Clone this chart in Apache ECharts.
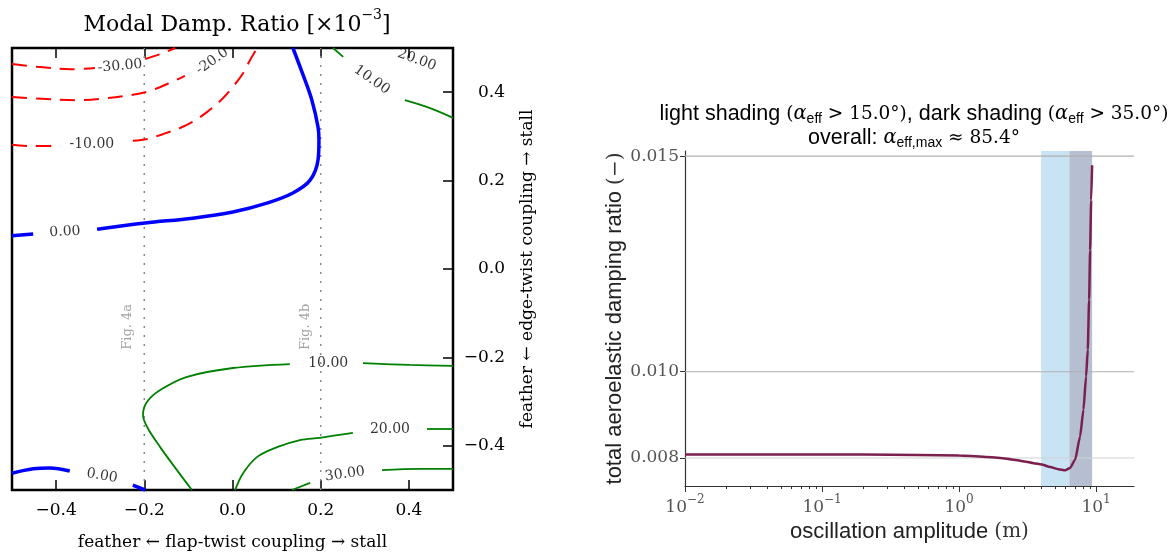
<!DOCTYPE html>
<html><head><meta charset="utf-8">
<script src="https://cdn.jsdelivr.net/npm/echarts@6/dist/echarts.min.js"></script>
<style>html,body{margin:0;padding:0;background:#fff}#c{width:1176px;height:557px}</style>
</head><body><div id="c"></div><script>
const SERIF = 'DejaVu Serif';
const SANS = 'Liberation Sans';

// ---------- left panel: contour lines (data units) ----------
const couplingTicks = [-0.4, -0.2, 0, 0.2, 0.4];
const figRefX = [-0.2, 0.2];
const figRefText = ['Fig. 4a', 'Fig. 4b'];
const figTextX = [-0.237, 0.1655];
const figTextY = [-0.131, -0.131];

const contourM30 = [
  [[-0.5,0.464],[-0.437,0.457],[-0.368,0.452],[-0.312,0.455]],
  [[-0.198,0.475],[-0.164,0.486],[-0.130,0.5]]
];
const contourM20 = [
  [[-0.5,0.389],[-0.432,0.385],[-0.357,0.382],[-0.300,0.385],[-0.226,0.394],[-0.187,0.403],[-0.142,0.421],[-0.108,0.437]]
];
const contourM10 = [
  [[-0.5,0.281],[-0.452,0.278],[-0.402,0.278]],
  [[-0.226,0.290],[-0.194,0.294],[-0.158,0.305],[-0.119,0.319],[-0.090,0.333],[-0.058,0.355],[-0.028,0.380],[-0.001,0.410],[0.024,0.443],[0.040,0.473],[0.056,0.5]]
];
const contourZero = [
  [[-0.5,0.075],[-0.452,0.079]],
  [[-0.307,0.090],[-0.198,0.104],[-0.090,0.115],[0.001,0.129],[0.078,0.149],[0.137,0.172],[0.176,0.201],[0.194,0.247],[0.196,0.292],[0.194,0.321],[0.180,0.382],[0.160,0.439],[0.137,0.5]],
  [[-0.5,-0.462],[-0.452,-0.452],[-0.414,-0.450],[-0.369,-0.457]],
  [[-0.226,-0.489],[-0.198,-0.5]]
];
const contourP10 = [
  [[0.228,0.5],[0.251,0.480]],
  [[0.391,0.382],[0.448,0.364],[0.5,0.342]],
  [[-0.092,-0.5],[-0.126,-0.455],[-0.164,-0.403],[-0.194,-0.357],[-0.203,-0.330],[-0.194,-0.301],[-0.164,-0.274],[-0.103,-0.244],[0.001,-0.224],[0.130,-0.215]],
  [[0.296,-0.213],[0.402,-0.217],[0.5,-0.219]]
];
const contourP20 = [
  [[0.006,-0.5],[0.024,-0.462],[0.056,-0.425],[0.101,-0.403],[0.153,-0.387],[0.198,-0.382],[0.273,-0.371]],
  [[0.441,-0.362],[0.5,-0.362]]
];
const contourP30 = [
  [[0.135,-0.5],[0.176,-0.484]],
  [[0.339,-0.455],[0.425,-0.452],[0.5,-0.452]]
];

const contourLabelText = ['-30.00','-20.0','-10.00','0.00','0.00','10.00','20.00','10.00','20.00','30.00'];
const contourLabelX    = [-0.255, -0.046, -0.319, -0.380, -0.296, 0.316, 0.418, 0.217, 0.357, 0.255];
const contourLabelY    = [ 0.459,  0.470,  0.281,  0.084, -0.468, 0.428, 0.473, -0.213, -0.362, -0.464];
const contourLabelRot  = [ 5, 35, 0, 3, -10, -35, -20, 0, 0, 8];

// ---------- right panel ----------
const ampX  = [0.01, 0.02, 0.05, 0.1, 0.2, 0.5, 1.0, 1.5, 2.0, 2.5, 3.0, 3.5, 4.0, 4.62, 5.3, 5.94, 6.46, 7.03, 7.64, 8.08, 8.45, 8.69, 8.89, 9.04, 9.2, 9.35];
const dampY = [0.00808, 0.00808, 0.00808, 0.00808, 0.00808, 0.00807, 0.00806, 0.00803, 0.00800, 0.00796, 0.00792, 0.00788, 0.00785, 0.00779, 0.00774, 0.007715, 0.00777, 0.00796, 0.00850, 0.00912, 0.00989, 0.01051, 0.01167, 0.01282, 0.01398, 0.01479];
const dampTicks = [0.008, 0.010, 0.015];
const dampGridColors = ['#d2d2d2', '#b0b0b0', '#b0b0b0'];
const ampTicks = [0.01, 0.1, 1, 10];
const lightBand = [3.97, 6.38];
const darkBand = [6.38, 9.35];
const ampMin = 0.01, ampMax = 18.9;

const ampMinorTicks = [];
for (let k = -2; k <= 1; k++) for (let m = 2; m <= 9; m++) { const v = m * Math.pow(10, k); if (v <= ampMax) ampMinorTicks.push(v); }

function fmtCoupling(v) { const a = Math.abs(v).toFixed(1); return (v < -1e-9 ? '−' : '') + a; }
function fmtPow(v) { const e = Math.round(Math.log10(v)); return '{b|10}{e|' + (e < 0 ? '−' : '') + Math.abs(e) + '}'; }

function contourSeries(segs, color, width, dash) {
  return segs.map(seg => ({
    type: 'line', xAxisIndex: 0, yAxisIndex: 0, data: seg, showSymbol: false, symbol: 'none',
    smooth: 0.35, lineStyle: { color: color, width: width, type: dash || 'solid' }, z: 3, silent: true
  }));
}

const series = [];
figRefX.forEach(x => series.push({
  type: 'line', xAxisIndex: 0, yAxisIndex: 0, data: [[x, -0.5], [x, 0.5]], showSymbol: false, symbol: 'none',
  lineStyle: { color: '#888', width: 1.5, type: [2, 7] }, z: 2, silent: true
}));
const redDash = [15, 9];
series.push(...contourSeries(contourM30, '#ff0000', 2, redDash));
series.push(...contourSeries(contourM20, '#ff0000', 2, redDash));
series.push(...contourSeries(contourM10, '#ff0000', 2, redDash));
series.push(...contourSeries(contourZero, '#0000ff', 3.5));
series.push(...contourSeries(contourP10, '#008000', 1.8));
series.push(...contourSeries(contourP20, '#008000', 1.8));
series.push(...contourSeries(contourP30, '#008000', 1.8));

series.push({
  type: 'scatter', xAxisIndex: 0, yAxisIndex: 0, symbolSize: 1, itemStyle: { color: 'transparent' }, z: 5, silent: true,
  data: contourLabelText.map((t, i) => ({ value: [contourLabelX[i], contourLabelY[i]], label: { formatter: t, rotate: contourLabelRot[i] } })),
  label: { show: true, position: 'inside', fontFamily: SERIF, fontSize: 14, color: '#000' }
});
series.push({
  type: 'scatter', xAxisIndex: 0, yAxisIndex: 0, symbolSize: 1, itemStyle: { color: 'transparent' }, z: 5, silent: true,
  data: figRefText.map((t, i) => ({ value: [figTextX[i], figTextY[i]], label: { formatter: t } })),
  label: { show: true, position: 'inside', rotate: 90, fontFamily: SERIF, fontSize: 13, color: '#888' }
});

// right panel: shaded bands
series.push({
  type: 'line', xAxisIndex: 2, yAxisIndex: 1, data: ampX.map((x, i) => [x, dampY[i]]), showSymbol: false, symbol: 'none',
  lineStyle: { width: 0, opacity: 0 }, z: 1, silent: true,
  markArea: { silent: true, label: { show: false }, data: [
    [{ xAxis: lightBand[0], itemStyle: { color: '#c8e3f4' } }, { xAxis: lightBand[1] }],
    [{ xAxis: darkBand[0], itemStyle: { color: '#b6bed2' } }, { xAxis: darkBand[1] }]
  ] }
});
// horizontal grid lines at the tick values
dampTicks.forEach((v, i) => series.push({
  type: 'line', xAxisIndex: 2, yAxisIndex: 1, data: [[ampMin, v], [ampMax, v]], showSymbol: false, symbol: 'none',
  lineStyle: { color: dampGridColors[i], width: 1.2 }, z: 2, silent: true
}));
series.push({
  type: 'line', xAxisIndex: 2, yAxisIndex: 1, data: ampX.map((x, i) => [x, dampY[i]]), showSymbol: false, symbol: 'none',
  smooth: 0.2, smoothMonotone: 'x', lineStyle: { color: '#7b1f4f', width: 2.5 }, z: 4, silent: true
});

const option = {
  animation: false,
  backgroundColor: '#fff',
  title: [
    { text: '{a|Modal Damp. Ratio [×10}{e|−3}{a|]}', left: 232, top: 3, textAlign: 'center',
      textStyle: { fontWeight: 'normal', rich: {
        a: { fontFamily: SERIF, fontSize: 22, fontWeight: 'normal', color: '#000', lineHeight: 28, verticalAlign: 'bottom' },
        e: { fontFamily: SERIF, fontSize: 14, fontWeight: 'normal', color: '#000', lineHeight: 16, verticalAlign: 'top' } } } },
    { text: '{s|light shading }{m|(}{i|α}{sub|eff}{m| > 15.0°)}{s|, dark shading }{m|(}{i|α}{sub|eff}{m| > 35.0°)}\n{s|overall: }{i|α}{sub|eff,max}{m| ≈ 85.4°}',
      left: 909, top: 97, textAlign: 'center',
      textStyle: { fontWeight: 'normal', rich: {
        s: { fontFamily: SANS, fontSize: 21.5, fontWeight: 'normal', color: '#000', lineHeight: 24, verticalAlign: 'middle' },
        m: { fontFamily: SERIF, fontSize: 18.5, fontWeight: 'normal', color: '#000', lineHeight: 24, verticalAlign: 'middle' },
        i: { fontFamily: SERIF, fontStyle: 'italic', fontSize: 19.5, fontWeight: 'normal', color: '#000', lineHeight: 24, verticalAlign: 'middle' },
        sub: { fontFamily: SANS, fontSize: 14, fontWeight: 'normal', color: '#000', lineHeight: 14, verticalAlign: 'bottom' } } } }
  ],
  grid: [
    { left: 12, top: 48, width: 441, height: 442, show: true, borderColor: '#000', borderWidth: 2.5, backgroundColor: 'transparent' },
    { left: 685, top: 151, width: 449, height: 335 }
  ],
  xAxis: [
    { gridIndex: 0, type: 'value', min: -0.5, max: 0.5, position: 'bottom',
      axisLine: { show: false, onZero: false },
      axisTick: { show: true, inside: true, length: 10, customValues: couplingTicks, lineStyle: { color: '#000', width: 1.5 } },
      axisLabel: { customValues: couplingTicks, formatter: fmtCoupling, fontFamily: SERIF, fontSize: 17, color: '#000', margin: 12 },
      splitLine: { show: false },
      name: 'feather ← flap-twist coupling → stall', nameLocation: 'middle', nameGap: 44,
      nameTextStyle: { fontFamily: SERIF, fontSize: 17, color: '#000' } },
    { gridIndex: 0, type: 'value', min: -0.5, max: 0.5, position: 'top',
      axisLine: { show: false, onZero: false },
      axisTick: { show: true, inside: true, length: 10, customValues: couplingTicks, lineStyle: { color: '#000', width: 1.5 } },
      axisLabel: { show: false }, splitLine: { show: false } },
    { gridIndex: 1, type: 'log', logBase: 10, min: ampMin, max: ampMax, position: 'bottom',
      axisLine: { show: true, onZero: false, lineStyle: { color: '#333', width: 1.2 } },
      axisTick: { show: true, inside: false, length: 6, customValues: ampTicks, lineStyle: { color: '#333', width: 1 } },
      axisLabel: { customValues: ampTicks, formatter: fmtPow, margin: 8,
        rich: { b: { fontFamily: SERIF, fontSize: 17, color: '#555', lineHeight: 22, verticalAlign: 'bottom' },
                e: { fontFamily: SERIF, fontSize: 12, color: '#555', lineHeight: 14, verticalAlign: 'top' } } },
      splitLine: { show: false }, minorTick: { show: false },
      name: '{s|oscillation amplitude }{m|(m)}', nameLocation: 'middle', nameGap: 20,
      nameTextStyle: { rich: { s: { fontFamily: SANS, fontSize: 22, color: '#222' }, m: { fontFamily: SERIF, fontSize: 20, color: '#333' } } } },
    { gridIndex: 1, type: 'log', logBase: 10, min: ampMin, max: ampMax, position: 'bottom', offset: 0,
      axisLine: { show: false, onZero: false },
      axisTick: { show: true, inside: false, length: 3, customValues: ampMinorTicks, lineStyle: { color: '#333', width: 1 } },
      axisLabel: { show: false }, splitLine: { show: false } }
  ],
  yAxis: [
    { gridIndex: 0, type: 'value', min: -0.5, max: 0.5, position: 'right',
      axisLine: { show: false, onZero: false },
      axisTick: { show: true, inside: true, length: 10, customValues: couplingTicks, lineStyle: { color: '#000', width: 1.5 } },
      axisLabel: { customValues: couplingTicks, formatter: fmtCoupling, fontFamily: SERIF, fontSize: 17, color: '#000', margin: 52, align: 'right' },
      splitLine: { show: false },
      name: 'feather ← edge-twist coupling → stall', nameLocation: 'middle', nameRotate: 90, nameGap: 66,
      nameTextStyle: { fontFamily: SERIF, fontSize: 17, color: '#000' } },
    { gridIndex: 1, type: 'value', min: 0.00735, max: 0.01512, position: 'left',
      axisLine: { show: true, onZero: false, lineStyle: { color: '#333', width: 1.2 } },
      axisTick: { show: true, inside: false, length: 5, customValues: dampTicks, lineStyle: { color: '#333' } },
      axisLabel: { customValues: dampTicks, formatter: v => v.toFixed(3), fontFamily: SERIF, fontSize: 17, color: '#555', margin: 6 },
      splitLine: { show: false },
      name: '{s|total aeroelastic damping ratio }{m|(−)}', nameLocation: 'middle', nameRotate: 90, nameGap: 57,
      nameTextStyle: { rich: { s: { fontFamily: SANS, fontSize: 22, color: '#222' }, m: { fontFamily: SERIF, fontSize: 20, color: '#333' } } } }
  ],
  series: series
};
const chart = echarts.init(document.getElementById('c'), null, { renderer: 'canvas' });
chart.setOption(option);
</script></body></html>
